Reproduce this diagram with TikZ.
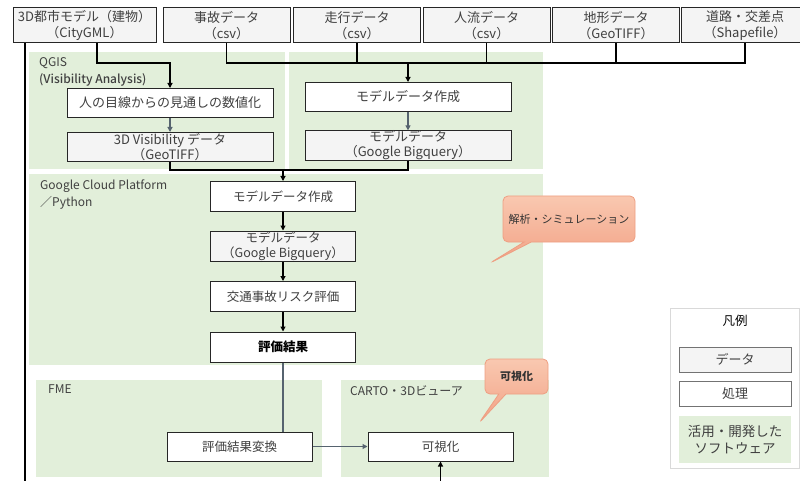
\documentclass[tikz,border=0pt]{standalone}
\usepackage{fontspec}
\setmainfont{Noto Sans CJK JP}
\newfontfamily\medfont{Noto Sans CJK JP Medium}
\usetikzlibrary{arrows.meta,shapes.callouts}

\definecolor{swgreen}{HTML}{E2EFDA}
\definecolor{datafill}{HTML}{F4F4F4}
\definecolor{slate}{HTML}{56636F}
\definecolor{calltop}{HTML}{F9C8B0}
\definecolor{callbot}{HTML}{F2A286}
\definecolor{callline}{HTML}{EE9F82}

\begin{document}
\begin{tikzpicture}[x=1pt,y=-1pt,
                    font=\fontsize{12.5}{15}\selectfont,
                    box/.style={draw=black!85,line width=1pt,align=center,
                                inner sep=0pt,text=black!75},
                    data/.style={box,fill=datafill},
                    proc/.style={box,fill=white},
                    topbox/.style={data,minimum width=127pt,minimum height=35pt,
                                   font=\fontsize{13}{16}\selectfont},
                    wide/.style={minimum width=206pt,minimum height=29pt,
                                 font=\fontsize{13}{15}\selectfont},
                    narrow/.style={minimum width=145pt,minimum height=30pt},
                    region/.style={fill=swgreen,anchor=north west,inner sep=0pt},
                    tag/.style={anchor=north west,align=left,inner sep=0pt,
                                text=black!75,font=\fontsize{12}{17}\selectfont},
                    line/.style={line width=1.1pt},
                    arr/.style={line,-{Triangle[length=5pt,width=5pt]}},
                    garr/.style={arr,draw=slate},
                    note/.style={rectangle callout,rounded corners=5pt,
                                 top color=calltop,bottom color=callbot,
                                 draw=callline,line width=0.8pt,text=black!80,
                                 font=\fontsize{11}{13}\selectfont}]
  \useasboundingbox (0,0) rectangle (800,481);

  % software areas
  \node[region,minimum width=256pt,minimum height=117pt] (qgis) at (29,52) {};
  \node[region,minimum width=254pt,minimum height=117pt] (prep) at (289,52) {};
  \node[region,minimum width=514pt,minimum height=191pt] (gcp) at (29,174) {};
  \node[region,minimum width=286pt,minimum height=97pt] (fme) at (36,380) {};
  \node[region,minimum width=208pt,minimum height=97pt] (carto) at (341,380) {};
  \node[tag] (qgislbl) at (39,57) {QGIS\\{\medfont (Visibility Analysis)}};
  \node[tag] (gcplbl) at (40,180) {Google Cloud Platform\\／Python};
  \node[tag] (fmelbl) at (48,385) {FME};
  \node[tag] (cartolbl) at (350,385) {CARTO・3Dビューア};

  % input data
  \node[topbox,minimum width=143pt] (city) at (84.5,25.5) {3D都市モデル（建物）\\（CityGML）};
  \node[topbox] (accident) at (226.5,25.5) {事故データ\\（csv）};
  \node[topbox] (travel) at (357,25.5) {走行データ\\（csv）};
  \node[topbox] (flow) at (486.5,25.5) {人流データ\\（csv）};
  \node[topbox] (terrain) at (616,25.5) {地形データ\\（GeoTIFF）};
  \node[topbox] (road) at (745,25.5) {道路・交差点\\（Shapefile）};

  % processing chain
  \node[proc,wide] (sight) at (170,103) {人の目線からの見通しの数値化};
  \node[data,wide] (visdata) at (170,147) {3D Visibility データ\\（GeoTIFF）};
  \node[proc,wide] (prep1) at (408,97) {モデルデータ作成};
  \node[data,wide] (bq1) at (408,145.5) {モデルデータ\\（Google Bigquery）};
  \node[proc,narrow] (prep2) at (283,196.5) {モデルデータ作成};
  \node[data,narrow] (bq2) at (283,246) {モデルデータ\\（Google Bigquery）};
  \node[proc,narrow] (risk) at (283,296.5) {交通事故リスク評価};
  \node[proc,narrow,font=\bfseries\fontsize{12.5}{15}\selectfont,text=black] (result) at (283,347) {評価結果};
  \node[proc,narrow,minimum height=29pt] (conv) at (239.5,446.5) {評価結果変換};
  \node[proc,narrow,minimum height=29pt] (viz) at (440.5,446.5) {可視化};

  % legend
  \node[draw=black!15,line width=0.8pt,anchor=north west,inner sep=0pt,
        minimum width=129pt,minimum height=160pt] (legend) at (670,308) {};
  \node (legendtitle) at (735,321) {凡例};
  \node[data,draw=black!55,minimum width=112pt,minimum height=25pt,
        font=\fontsize{13}{15}\selectfont] (keydata) at (735,359.5) {データ};
  \node[proc,draw=black!55,minimum width=112pt,minimum height=25pt,
        font=\fontsize{13}{15}\selectfont] (keyproc) at (735,393.5) {処理};
  \node[fill=swgreen,align=center,text=black!75,minimum width=112pt,
        minimum height=47pt,font=\fontsize{13.5}{17}\selectfont] (keysw) at (735,439.5) {活用・開発した\\ソフトウェア};

  % callouts
  \coordinate (simtip) at (490,263);
  \coordinate (viztip) at (479,423);
  \node[note,minimum width=132pt,minimum height=46pt,
        callout absolute pointer=(simtip)] (simnote) at (569,219) {解析・シミュレーション};
  \node[note,minimum width=63pt,minimum height=35pt,font=\bfseries\fontsize{11}{13}\selectfont,
        callout absolute pointer=(viztip)] (viznote) at (516.5,376.5) {可視化};

  % connectors
  \coordinate (bus) at (0,63);
  \coordinate (join) at (0,170);
  \coordinate (below) at (0,495);
  \draw[arr] ([xshift=12.5pt]city.south) |- (sight.north |- bus) -- (sight);
  \draw[arr] ([xshift=-59.5pt]city.south) -- ([xshift=-59.5pt]city.south |- below) -| (viz);
  \draw[line] (accident) -- (accident |- bus) -- (road |- bus) -- (road);
  \foreach \n in {travel,flow,terrain}
    \draw[line] (\n) -- (\n |- bus);
  \draw[arr] (prep1 |- bus) -- (prep1);
  \draw[garr] (sight) -- (visdata);
  \draw[garr] (prep1) -- (bq1);
  \draw[line] (visdata) |- (prep2 |- join);
  \draw[line] (bq1) |- (prep2 |- join);
  \draw[arr] (prep2 |- join) -- (prep2);
  \draw[arr] (prep2) -- (bq2);
  \draw[arr] (bq2) -- (risk);
  \draw[arr] (risk) -- (result);
  \draw[line,draw=slate] (result) -- (result |- conv.north);
  \draw[garr] (conv) -- (viz);
\end{tikzpicture}
\end{document}
